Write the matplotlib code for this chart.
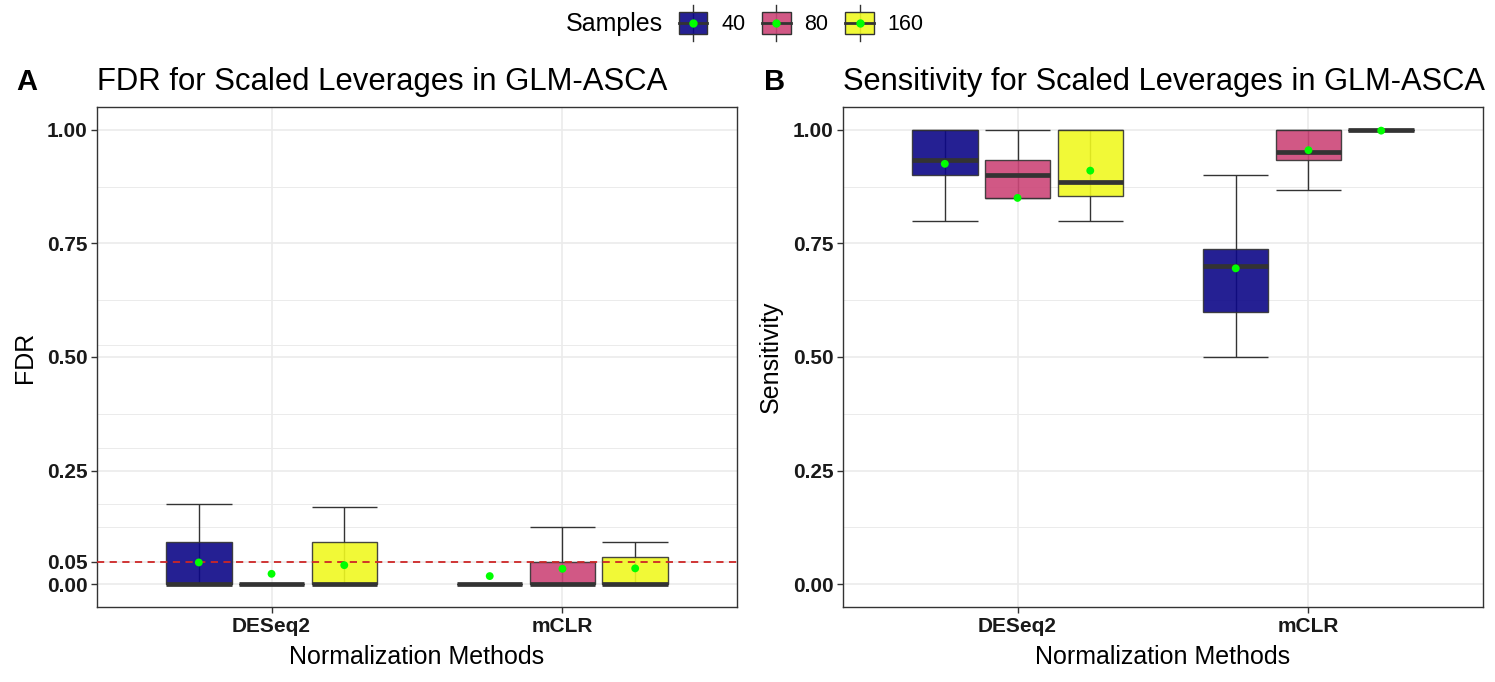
import matplotlib
matplotlib.use("Agg")
import matplotlib.pyplot as plt
import numpy as np
from matplotlib.legend_handler import HandlerBase
from matplotlib.lines import Line2D
from matplotlib.patches import Patch, Rectangle

# ---- data (order: DESeq2-40, DESeq2-80, DESeq2-160, mCLR-40, mCLR-80, mCLR-160)
methods = ["DESeq2", "mCLR"]
samples = ["40", "80", "160"]

fdr_whislo = [0.0, 0.0, 0.0, 0.0, 0.0, 0.0]
fdr_q1 = [0.0, 0.0, 0.0, 0.0, 0.0, 0.0]
fdr_med = [0.0, 0.0, 0.0, 0.0, 0.0, 0.0]
fdr_q3 = [0.092, 0.0, 0.092, 0.0, 0.05, 0.06]
fdr_whishi = [0.177, 0.0, 0.169, 0.0, 0.126, 0.092]
fdr_mean = [0.048, 0.023, 0.042, 0.018, 0.034, 0.035]

sens_whislo = [0.80, 0.85, 0.80, 0.50, 0.867, 1.0]
sens_q1 = [0.90, 0.85, 0.855, 0.60, 0.933, 1.0]
sens_med = [0.933, 0.90, 0.886, 0.70, 0.95, 1.0]
sens_q3 = [1.0, 0.933, 1.0, 0.737, 1.0, 1.0]
sens_whishi = [1.0, 1.0, 1.0, 0.90, 1.0, 1.0]
sens_mean = [0.925, 0.85, 0.91, 0.695, 0.955, 0.998]

fdr_ticks = [0.0, 0.05, 0.25, 0.50, 0.75, 1.00]
fdr_minor = [0.125, 0.177, 0.30, 0.375, 0.527, 0.625, 0.875]
sens_ticks = [0.0, 0.25, 0.50, 0.75, 1.00]
sens_minor = [0.125, 0.375, 0.625, 0.875]
fdr_cutoff = 0.05

COLORS = ["#0D0887", "#CC4678", "#F0F921"]  # plasma-like fills
FILL_ALPHA = 0.9
EDGE = "#333333"
GRID = "#EBEBEB"
W, H = 1495, 682

plt.rcParams["font.family"] = ["Liberation Sans", "DejaVu Sans"]


class BoxKey(HandlerBase):
    """ggplot 스타일 박스 범례 키 (박스 + 수염 + 중앙선 + 평균점)."""

    def create_artists(self, legend, orig_handle, xdescent, ydescent,
                       width, height, fontsize, trans):
        fc = orig_handle.get_facecolor()
        cx = width / 2 - xdescent
        cy = height / 2 - ydescent
        bw, bh = width * 0.95, height * 1.1
        whisk = Line2D([cx, cx], [cy - bh * 0.8, cy + bh * 0.8], color=EDGE, lw=1, transform=trans)
        box = Rectangle((cx - bw / 2, cy - bh / 2), bw, bh, facecolor=fc, edgecolor=EDGE, lw=1,
                        transform=trans)
        med = Line2D([cx - bw / 2, cx + bw / 2], [cy, cy], color=EDGE, lw=2, transform=trans)
        dot = Line2D([cx], [cy], marker="o", ms=5, color="#00FF00", ls="none", transform=trans)
        return [whisk, box, med, dot]


def draw_panel(ax, whislo, q1, med, q3, whishi, mean, ticks, minor):
    offsets = [-0.25, 0.0, 0.25]
    pos, stats, fills = [], [], []
    for m in range(len(methods)):
        for s in range(len(samples)):
            i = m * len(samples) + s
            pos.append(m + 1 + offsets[s])
            fills.append(COLORS[s])
            stats.append({"whislo": whislo[i], "q1": q1[i], "med": med[i],
                          "q3": q3[i], "whishi": whishi[i], "fliers": []})
    width = 0.225
    # errorbar (stat_boxplot geom="errorbar") – full line shows through the box
    ax.vlines(pos, whislo, whishi, color=EDGE, lw=1.0, zorder=2)
    ax.hlines(whislo, np.array(pos) - width / 2, np.array(pos) + width / 2, color=EDGE, lw=1.0, zorder=2)
    ax.hlines(whishi, np.array(pos) - width / 2, np.array(pos) + width / 2, color=EDGE, lw=1.0, zorder=2)
    bp = ax.bxp(stats, positions=pos, widths=width, patch_artist=True, showcaps=False,
                showfliers=False, manage_ticks=False, zorder=3,
                boxprops=dict(edgecolor=EDGE, linewidth=1.0),
                whiskerprops=dict(linewidth=0),
                medianprops=dict(color=EDGE, linewidth=3.4, solid_capstyle="butt"))
    for patch, c in zip(bp["boxes"], fills):
        patch.set_facecolor(c)
        patch.set_alpha(FILL_ALPHA)
        patch.set_edgecolor(EDGE)
    ax.scatter(pos, mean, s=32, color="#00FF00", edgecolor="none", zorder=5)

    ax.set_xlim(0.4, 2.6)
    ax.set_ylim(-0.05, 1.05)
    ax.set_xticks([1, 2])
    ax.set_xticklabels(methods, fontsize=15, fontweight="bold", color="#1A1A1A")
    ax.set_yticks(ticks)
    ax.set_yticklabels([f"{t:.2f}" for t in ticks], fontsize=15, fontweight="bold", color="#1A1A1A")
    ax.set_yticks(minor, minor=True)
    ax.tick_params(which="major", length=4, width=1, color=EDGE, pad=3)
    ax.tick_params(which="minor", length=0)
    ax.grid(which="major", color=GRID, lw=1.2, zorder=0)
    ax.grid(which="minor", axis="y", color=GRID, lw=0.7, zorder=0)
    ax.set_axisbelow(True)
    for sp in ax.spines.values():
        sp.set_color(EDGE)
        sp.set_linewidth(1.0)


fig = plt.figure(figsize=(W / 100, H / 100), dpi=100)
axA = fig.add_axes([97 / W, 1 - 607 / H, 640 / W, 500 / H])
axB = fig.add_axes([843 / W, 1 - 607 / H, 640 / W, 500 / H])

draw_panel(axA, fdr_whislo, fdr_q1, fdr_med, fdr_q3, fdr_whishi, fdr_mean, fdr_ticks, fdr_minor)
axA.axhline(fdr_cutoff, color="#CD2626", ls=(0, (4, 3)), lw=1.3, zorder=4)
draw_panel(axB, sens_whislo, sens_q1, sens_med, sens_q3, sens_whishi, sens_mean, sens_ticks, sens_minor)

for ax, ylab in [(axA, "FDR"), (axB, "Sensitivity")]:
    ax.set_xlabel("Normalization Methods", fontsize=18)
    ax.xaxis.set_label_coords(0.5, -0.075)
    ax.set_ylabel(ylab, fontsize=18)
    ax.yaxis.set_label_coords(-0.094, 0.5)

# titles and panel tags
fig.text(97 / W, 1 - 90 / H, "FDR for Scaled Leverages in GLM-ASCA", fontsize=22.4, va="baseline")
fig.text(843 / W, 1 - 90 / H, "Sensitivity for Scaled Leverages in GLM-ASCA", fontsize=22.2, va="baseline")
fig.text(16 / W, 1 - 90 / H, "A", fontsize=21, fontweight="bold", va="baseline")
fig.text(764 / W, 1 - 90 / H, "B", fontsize=21, fontweight="bold", va="baseline")

# legend
handles = [Patch(facecolor=c, alpha=FILL_ALPHA) for c in COLORS]
fig.text(663 / W, 1 - 24 / H, "Samples", fontsize=18, ha="right", va="center")
fig.legend(handles, samples, handler_map={Patch: BoxKey()}, ncol=3, frameon=False,
           loc="center left", bbox_to_anchor=(678 / W, 1 - 24 / H), fontsize=15.5,
           handlelength=1.4, handleheight=1.1, handletextpad=0.6, columnspacing=0.75,
           borderpad=0, borderaxespad=0)

fig.savefig("out.png", dpi=100)
